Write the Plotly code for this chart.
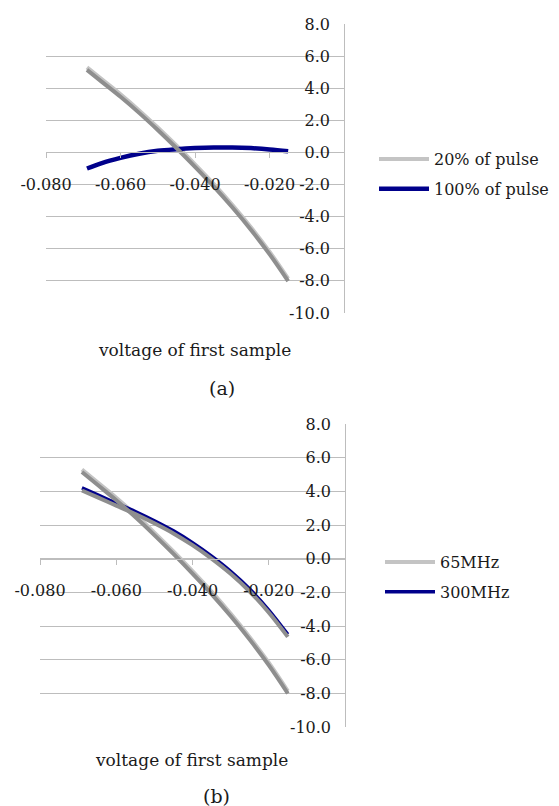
import plotly.graph_objects as go

# ---------------- data ----------------
x_vals = [-0.069, -0.065, -0.060, -0.055, -0.050, -0.045, -0.040,
          -0.035, -0.030, -0.025, -0.020, -0.015]

# chart (a)
pulse_20 = [5.3, 4.55, 3.62, 2.62, 1.55, 0.43, -0.74, -1.96, -3.26, -4.66, -6.18, -7.86]
pulse_100 = [-1.0, -0.66, -0.34, -0.08, 0.1, 0.2, 0.27, 0.31, 0.31, 0.27, 0.19, 0.07]

# chart (b)
mhz_65 = [5.3, 4.55, 3.62, 2.62, 1.55, 0.43, -0.74, -1.96, -3.26, -4.66, -6.18, -7.86]
mhz_300 = [4.2, 3.8, 3.3, 2.8, 2.25, 1.65, 0.95, 0.15, -0.75, -1.8, -3.05, -4.5]

x_tick_vals = [-0.08, -0.06, -0.04, -0.02]
x_tick_text = ["-0.080", "-0.060", "-0.040", "-0.020"]
y_tick_vals = [8, 6, 4, 2, 0, -2, -4, -6, -8, -10]
y_tick_text = ["8.0", "6.0", "4.0", "2.0", "0.0", "-2.0", "-4.0", "-6.0", "-8.0", "-10.0"]

x_title = "voltage of first sample"

# ---------------- styling ----------------
W, H = 559, 806
FONT = "DejaVu Serif"
TXT = "#1a1a1a"
GRID = "#bdbdbd"
GRAY_LIGHT = "#c4c4c4"
GRAY_DARK = "#8e8e8e"
BLUE = "#00008b"


def px_x(p):
    return p / W


def px_y(p):
    return 1 - p / H


# plot areas in pixels
A = dict(l=38, r=336, t=16, b=305)
B = dict(l=32, r=337, t=416, b=719)


def shadow_shift(area):
    # ~2.5 px downward, expressed in data units for the overlay axis
    return 2.5 * 18 / (area["b"] - area["t"])


fig = go.Figure()

# invisible carriers for the tick-label axes
fig.add_trace(go.Scatter(x=x_vals, y=pulse_20, xaxis="x", yaxis="y5", mode="lines",
                         line=dict(width=0), opacity=0, showlegend=False, hoverinfo="skip"))
fig.add_trace(go.Scatter(x=x_vals, y=mhz_65, xaxis="x2", yaxis="y6", mode="lines",
                         line=dict(width=0), opacity=0, showlegend=False, hoverinfo="skip"))

# shadows (drawn first)
fig.add_trace(go.Scatter(x=x_vals, y=pulse_20, xaxis="x", yaxis="y3", mode="lines",
                         line=dict(color=GRAY_DARK, width=4, shape="spline"),
                         showlegend=False, hoverinfo="skip"))
fig.add_trace(go.Scatter(x=x_vals, y=mhz_65, xaxis="x2", yaxis="y4", mode="lines",
                         line=dict(color=GRAY_DARK, width=4, shape="spline"),
                         showlegend=False, hoverinfo="skip"))
fig.add_trace(go.Scatter(x=x_vals, y=mhz_300, xaxis="x2", yaxis="y4", mode="lines",
                         line=dict(color=GRAY_DARK, width=4, shape="spline"),
                         showlegend=False, hoverinfo="skip"))

# chart (a)
fig.add_trace(go.Scatter(x=x_vals, y=pulse_20, xaxis="x", yaxis="y", mode="lines",
                         name="20% of pulse", legend="legend", legendgroup="a1",
                         line=dict(color=GRAY_LIGHT, width=4, shape="spline")))
fig.add_trace(go.Scatter(x=x_vals, y=pulse_100, xaxis="x", yaxis="y", mode="lines",
                         name="100% of pulse", legend="legend", legendgroup="a2",
                         line=dict(color=BLUE, width=4.5, shape="spline")))
# chart (b)
fig.add_trace(go.Scatter(x=x_vals, y=mhz_65, xaxis="x2", yaxis="y2", mode="lines",
                         name="65MHz", legend="legend2", legendgroup="b1",
                         line=dict(color=GRAY_LIGHT, width=4, shape="spline")))
fig.add_trace(go.Scatter(x=x_vals, y=mhz_300, xaxis="x2", yaxis="y2", mode="lines",
                         name="300MHz", legend="legend2", legendgroup="b2",
                         line=dict(color=BLUE, width=3.5, shape="spline")))


def xaxis_cfg(area):
    zero_px = area["t"] + (area["b"] - area["t"]) * 8 / 18
    return dict(
        domain=[px_x(area["l"]), px_x(area["r"])],
        range=[-0.08, 0.0],
        anchor="free", position=px_y(zero_px),
        showgrid=False, zeroline=False,
        showline=True, linecolor=GRID, linewidth=1,
        ticks="outside", ticklen=5, tickcolor=GRID,
        tickvals=x_tick_vals, ticktext=x_tick_text,
        tickfont=dict(family=FONT, size=16, color=TXT),
        ticklabelstandoff=12,
        automargin=False, fixedrange=True,
    )


def yaxis_cfg(area, anchor):
    return dict(
        domain=[px_y(area["b"]), px_y(area["t"])],
        range=[-10, 8],
        anchor=anchor, side="right",
        showgrid=True, gridcolor=GRID, gridwidth=1,
        zeroline=False,
        showline=True, linecolor=GRID, linewidth=1,
        ticks="", showticklabels=False,
        tickvals=y_tick_vals,
        automargin=False, fixedrange=True,
    )


def ylabel_cfg(area, base):
    return dict(
        overlaying=base, anchor="free", side="left",
        position=px_x(area["r"] - 14),
        range=[-10, 8],
        showgrid=False, zeroline=False, showline=False, ticks="",
        tickvals=y_tick_vals, ticktext=y_tick_text,
        tickfont=dict(family=FONT, size=16, color=TXT),
        automargin=False, fixedrange=True,
    )


dA = shadow_shift(A)
dB = shadow_shift(B)

fig.update_layout(
    template="none",
    width=W, height=H,
    margin=dict(l=0, r=0, t=0, b=0, autoexpand=False),
    paper_bgcolor="white", plot_bgcolor="white",
    showlegend=True,
    xaxis=xaxis_cfg(A),
    yaxis=yaxis_cfg(A, "x"),
    xaxis2=xaxis_cfg(B),
    yaxis2=yaxis_cfg(B, "x2"),
    yaxis3=dict(overlaying="y", anchor="x", range=[-10 + dA, 8 + dA], visible=False,
                automargin=False, fixedrange=True),
    yaxis4=dict(overlaying="y2", anchor="x2", range=[-10 + dB, 8 + dB], visible=False,
                automargin=False, fixedrange=True),
    yaxis5=ylabel_cfg(A, "y"),
    yaxis6=ylabel_cfg(B, "y2"),
    legend=dict(x=px_x(366), y=px_y(166), xanchor="left", yanchor="middle",
                font=dict(family=FONT, size=16, color=TXT),
                itemwidth=50, tracegroupgap=6, traceorder="grouped",
                bgcolor="rgba(0,0,0,0)", borderwidth=0),
    legend2=dict(x=px_x(372), y=px_y(569), xanchor="left", yanchor="middle",
                 font=dict(family=FONT, size=16, color=TXT),
                 itemwidth=50, tracegroupgap=6, traceorder="grouped",
                 bgcolor="rgba(0,0,0,0)", borderwidth=0),
    annotations=[
        dict(text=x_title, x=px_x(186), y=px_y(342), xref="paper", yref="paper",
             showarrow=False, xanchor="center", yanchor="middle",
             font=dict(family=FONT, size=17, color=TXT)),
        dict(text="(a)", x=px_x(214), y=px_y(380), xref="paper", yref="paper",
             showarrow=False, xanchor="center", yanchor="middle",
             font=dict(family=FONT, size=19, color=TXT)),
        dict(text=x_title, x=px_x(183), y=px_y(752), xref="paper", yref="paper",
             showarrow=False, xanchor="center", yanchor="middle",
             font=dict(family=FONT, size=17, color=TXT)),
        dict(text="(b)", x=px_x(208), y=px_y(788), xref="paper", yref="paper",
             showarrow=False, xanchor="center", yanchor="middle",
             font=dict(family=FONT, size=19, color=TXT)),
    ],
)

fig.write_html("out.html")
